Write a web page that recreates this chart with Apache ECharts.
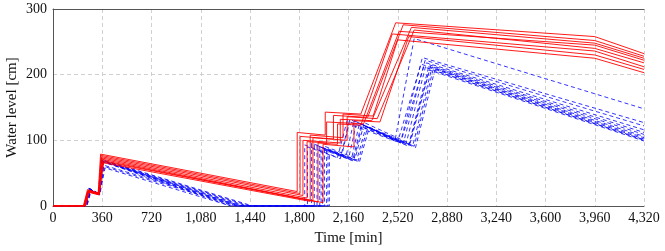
<!DOCTYPE html>
<html><head><meta charset="utf-8">
<script src="https://cdn.jsdelivr.net/npm/echarts@6/dist/echarts.min.js"></script>
<style>html,body{margin:0;padding:0;background:#fff}#c{width:665px;height:251px}</style>
</head><body><div id="c"></div>
<script>
// x ticks (minutes) and y ticks (cm)
const xTicks = [0,360,720,1080,1440,1800,2160,2520,2880,3240,3600,3960,4320];
const yTicks = [0,100,200,300];

// Red (solid) series: [time, level]
const red1 = [[0,0],[222,0],[252,25],[330,20],[348,79],[1785,22],[1785,112],[1990,108],[1990,143],[2250,140],[2505,279],[3960,258],[4320,232]];
const red2 = [[0,0],[226,0],[256,24],[333,19],[352,77],[1806,19],[1806,106],[2050,102],[2050,138],[2300,135],[2560,276],[3960,252],[4320,228]];
const red3 = [[0,0],[230,0],[260,23],[336,19],[356,75],[1827,16],[1827,100],[2100,96],[2100,132],[2330,130],[2620,272],[3960,248],[4320,225]];
const red4 = [[0,0],[234,0],[262,24],[338,18],[360,73],[1857,12],[1857,98],[2000,96],[2000,128],[2270,125],[2530,266],[3960,245],[4320,222]];
const red5 = [[0,0],[238,0],[266,23],[340,18],[364,71],[1900,8],[1900,104],[2150,100],[2150,136],[2370,133],[2640,268],[3960,240],[4320,218]];
const red6 = [[0,0],[224,0],[254,22],[332,18],[368,69],[1937,6],[1937,96],[2080,94],[2080,125],[2250,123],[2480,262],[3960,236],[4320,212]];
const red7 = [[0,0],[228,0],[258,21],[334,17],[372,67.5],[1974,5],[1974,94],[2200,90],[2200,130],[2390,128],[2600,258],[3960,230],[4320,208]];
const red8 = [[0,0],[236,0],[264,22],[337,17],[362,66],[1880,7],[1880,108],[2120,104],[2120,140],[2340,137],[2520,253],[3960,225],[4320,203]];

// Blue (dashed) series: [time, level]
const blue1  = [[0,0],[228,0],[262,27],[332,19],[352,71],[1460,0],[1890,0],[1890,96],[2110,76],[2170,132],[2500,100],[2640,255],[4320,148]];
const blue2  = [[0,0],[232,0],[266,26],[334,18],[356,70],[1440,0],[1910,0],[1910,94],[2140,74],[2200,130],[2540,97],[2700,226],[4320,127]];
const blue3  = [[0,0],[236,0],[270,25],[336,18],[360,69],[1420,0],[1930,0],[1930,92],[2160,72],[2220,128],[2560,95],[2720,222],[4320,122]];
const blue4  = [[0,0],[240,0],[272,24],[338,18],[364,68],[1400,0],[1950,0],[1950,90],[2180,70],[2240,126],[2580,94],[2730,218],[4320,116]];
const blue5  = [[0,0],[244,0],[276,25],[340,17],[368,67],[1380,0],[1970,0],[1970,89],[2200,71],[2260,124],[2600,93],[2750,215],[4320,112]];
const blue6  = [[0,0],[230,0],[264,27],[335,19],[358,70],[1360,0],[1985,0],[1985,91],[2210,73],[2275,127],[2610,95],[2760,213],[4320,109]];
const blue7  = [[0,0],[238,0],[270,26],[337,18],[362,69],[1340,0],[2000,0],[2000,88],[2220,70],[2290,122],[2630,92],[2770,211],[4320,106]];
const blue8  = [[0,0],[242,0],[274,25],[339,17],[366,68],[1320,0],[1840,0],[1840,93],[2080,74],[2150,130],[2520,98],[2690,216],[4320,104]];
const blue9  = [[0,0],[246,0],[278,24],[341,17],[370,67],[1300,0],[2010,0],[2010,86],[2230,68],[2300,120],[2640,91],[2780,209],[4320,102]];
const blue10 = [[0,0],[234,0],[268,26],[336,18],[372,62],[1380,0],[1860,0],[1860,90],[2100,72],[2160,125],[2540,96],[2710,212],[4320,100]];
const blue11 = [[0,0],[240,0],[272,25],[338,17],[376,60],[1350,0],[1960,0],[1960,87],[2190,69],[2250,121],[2600,91],[2750,207],[4320,99]];
const blue12 = [[0,0],[248,0],[280,24],[342,17],[380,58],[1300,0],[2020,0],[2020,85],[2240,67],[2310,118],[2650,89],[2790,206],[4320,101]];

const redSeries = [red1,red2,red3,red4,red5,red6,red7,red8];
const blueSeries = [blue1,blue2,blue3,blue4,blue5,blue6,blue7,blue8,blue9,blue10,blue11,blue12];

const FONT = 'Liberation Serif';
const series = [];
blueSeries.forEach(d => series.push({type:'line', data:d, symbol:'none', silent:true,
  lineStyle:{color:'#0000ff', width:0.8, type:[4,3]}}));
redSeries.forEach(d => series.push({type:'line', data:d, symbol:'none', silent:true,
  lineStyle:{color:'#ff0000', width:0.9}}));

const chart = echarts.init(document.getElementById('c'), null, {renderer:'canvas'});
chart.setOption({
  animation:false,
  backgroundColor:'#fff',
  grid:{left:53, right:21, top:9, bottom:45, containLabel:false, outerBoundsMode:'none'},
  xAxis:[{type:'value', min:xTicks[0], max:xTicks[xTicks.length-1], interval:360,
    name:'Time [min]', nameLocation:'middle', nameGap:25,
    nameTextStyle:{fontFamily:FONT, fontSize:15, color:'#111'},
    axisLine:{show:true, onZero:false, lineStyle:{color:'#555', width:1}},
    axisTick:{show:false},
    axisLabel:{fontFamily:FONT, fontSize:14, color:'#111', margin:5},
    splitLine:{show:true, lineStyle:{color:'#d0d0d0', type:[4,3], width:1}}},
   {type:'value', position:'top', min:xTicks[0], max:xTicks[xTicks.length-1], interval:360,
    axisLine:{show:true, onZero:false, lineStyle:{color:'#555', width:1}},
    axisTick:{show:false}, axisLabel:{show:false}, splitLine:{show:false}}],
  yAxis:{type:'value', min:yTicks[0], max:yTicks[yTicks.length-1], interval:100,
    name:'Water level [cm]', nameLocation:'middle', nameGap:33, nameMoveOverlap:false,
    nameTextStyle:{fontFamily:FONT, fontSize:15, color:'#111'},
    axisLine:{show:true, lineStyle:{color:'#555', width:1}},
    axisTick:{show:false},
    axisLabel:{fontFamily:FONT, fontSize:14, color:'#111', margin:6},
    splitLine:{show:true, lineStyle:{color:'#d0d0d0', type:[4,3], width:1}}},
  series: series
});
</script></body></html>
